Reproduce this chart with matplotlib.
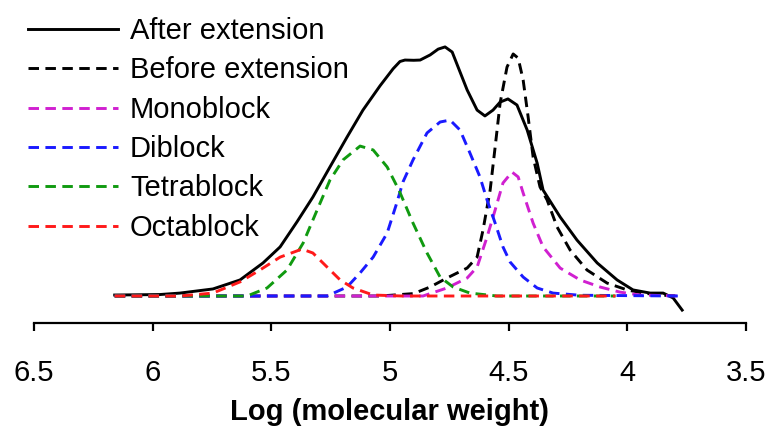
import matplotlib
matplotlib.use("Agg")
import matplotlib.pyplot as plt

plt.rcParams['font.family'] = ['Liberation Sans', 'DejaVu Sans']

# log(MW) and relative intensity (before-extension peak = 100)
after_x = [6.16, 5.97, 5.885, 5.746, 5.632, 5.535, 5.463, 5.392, 5.325, 5.253, 5.181,
           5.114, 5.042, 4.987, 4.958, 4.937, 4.90, 4.873, 4.831, 4.797, 4.768, 4.738,
           4.713, 4.675, 4.633, 4.600, 4.566, 4.536, 4.503, 4.465, 4.422, 4.38, 4.355,
           4.283, 4.212, 4.127, 4.043, 3.976, 3.904, 3.849, 3.807, 3.769]
after_y = [0.4, 0.6, 1.2, 2.9, 6.6, 13.6, 20.2, 30.5, 40.7, 53.1, 65.4,
           76.5, 86.5, 93.5, 96.5, 97.1, 97.0, 97.1, 99.2, 101.6, 102.5, 100.4,
           94.2, 84.8, 76.5, 74.1, 76.5, 79.8, 81.1, 78.6, 68.3, 54.7, 43.6,
           32.5, 23.0, 13.6, 6.6, 2.5, 1.2, 1.2, -0.8, -5.8]

before_x = [6.16, 5.04, 4.90, 4.831, 4.760, 4.675, 4.633, 4.608, 4.578, 4.557, 4.536,
            4.507, 4.481, 4.460, 4.439, 4.418, 4.397, 4.368, 4.338, 4.296, 4.241,
            4.170, 4.085, 4.001, 3.934, 3.85, 3.78]
before_y = [0, 0, 1.0, 3.7, 7.4, 11.5, 16.0, 27.2, 43.6, 61.3, 79.4,
            94.2, 99.6, 97.9, 88.9, 73.7, 57.2, 44.9, 39.5, 28.4, 18.9,
            10.7, 5.3, 2.5, 1.2, 0.3, 0]

mono_x = [6.16, 4.861, 4.760, 4.675, 4.633, 4.591, 4.557, 4.524, 4.486, 4.460, 4.439,
          4.397, 4.355, 4.283, 4.199, 4.115, 4.031, 3.946, 3.78]
mono_y = [0, 0, 3.3, 7.4, 11.9, 24.3, 35.4, 46.5, 51.0, 49.0, 42.4,
          30.0, 20.2, 11.5, 6.6, 3.7, 1.6, 0.4, 0]

di_x = [6.16, 5.265, 5.181, 5.126, 5.071, 5.012, 4.974, 4.945, 4.903, 4.844, 4.789,
        4.747, 4.705, 4.663, 4.621, 4.591, 4.557, 4.524, 4.494, 4.439, 4.380, 4.313,
        4.20, 3.78]
di_y = [0, 0, 3.7, 9.5, 16.0, 25.9, 37.5, 47.0, 56.0, 67.1, 71.6,
        72.4, 68.3, 58.8, 49.0, 39.5, 30.0, 20.2, 14.0, 7.8, 3.3, 1.2,
        0.3, 0]

tetra_x = [6.16, 5.602, 5.518, 5.434, 5.366, 5.307, 5.253, 5.198, 5.126, 5.071, 5.012,
           4.962, 4.903, 4.844, 4.789, 4.734, 4.663, 4.55, 4.05]
tetra_y = [0, 0, 3.3, 10.7, 21.8, 35.4, 47.7, 56.0, 61.7, 60.1, 53.1,
           43.5, 30.0, 17.7, 7.8, 3.7, 1.2, 0, 0]

octa_x = [6.16, 5.885, 5.746, 5.632, 5.548, 5.463, 5.371, 5.325, 5.265, 5.210, 5.156,
          5.071, 4.95, 4.05]
octa_y = [0, 0, 1.2, 5.8, 10.7, 16.0, 19.3, 17.7, 11.9, 6.6, 3.3,
          0.4, 0, 0]

ticks = [6.5, 6, 5.5, 5, 4.5, 4, 3.5]
tick_labels = ['6.5', '6', '5.5', '5', '4.5', '4', '3.5']

fig = plt.figure(figsize=(7.75, 4.41), dpi=100)
ax = fig.add_axes([34/775, 1 - 323/441, 712/775, 323/441])

lw = 2.1
dash = (3.6, 2.2)
ax.plot(after_x, after_y, color='black', lw=lw, label='After extension')
ax.plot(before_x, before_y, color='black', lw=lw, dashes=dash, label='Before extension')
ax.plot(mono_x, mono_y, color='#d020d0', lw=lw, dashes=dash, label='Monoblock')
ax.plot(di_x, di_y, color='#1a1aff', lw=lw, dashes=dash, label='Diblock')
ax.plot(tetra_x, tetra_y, color='#109a10', lw=lw, dashes=dash, label='Tetrablock')
ax.plot(octa_x, octa_y, color='#ff1a1a', lw=lw, dashes=dash, label='Octablock')

ax.set_xlim(6.5, 3.5)
ax.set_ylim(-27/2.43, 296/2.43)
ax.set_xticks(ticks)
ax.set_xticklabels(tick_labels)
ax.set_yticks([])
for s in ['top', 'right', 'left']:
    ax.spines[s].set_visible(False)
ax.spines['bottom'].set_linewidth(1.6)
ax.tick_params(axis='x', direction='out', length=6, width=1.6, labelsize=21, pad=20)
ax.set_xlabel('Log (molecular weight)', fontsize=21, fontweight='bold', labelpad=8)

ax.legend(loc='upper left', bbox_to_anchor=(28/775, 1 - 17/441), bbox_transform=fig.transFigure,
          frameon=False, fontsize=21, handlelength=3.1, handletextpad=0.4,
          labelspacing=0.39, borderpad=0.0, borderaxespad=0.0)

fig.savefig('out.png', dpi=100)
